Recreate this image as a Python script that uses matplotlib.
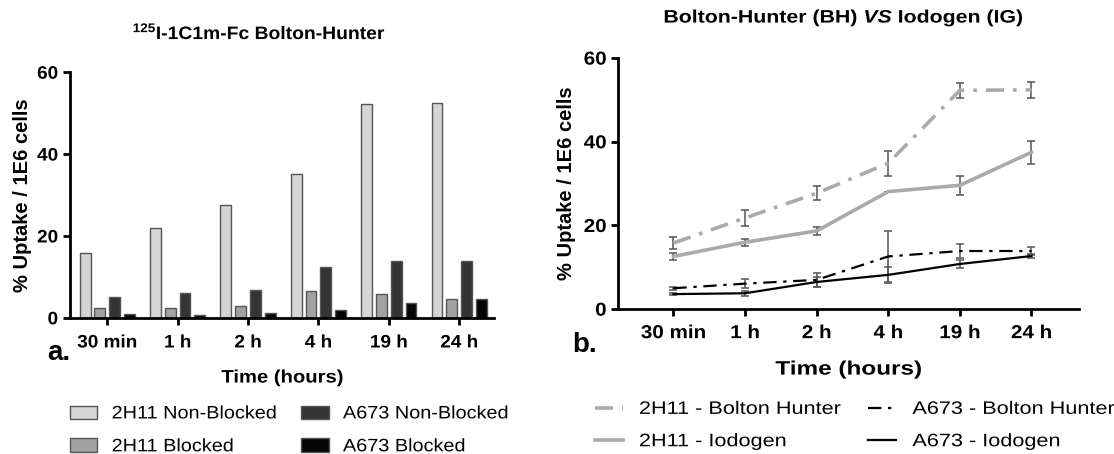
import numpy as np
import matplotlib
matplotlib.use("Agg")
import matplotlib.pyplot as plt
from matplotlib.patches import Patch
from matplotlib.lines import Line2D
from matplotlib.patheffects import AbstractPathEffect
from matplotlib.transforms import Affine2D

plt.rcParams['font.family'] = ['Liberation Sans', 'DejaVu Sans']
plt.rcParams['mathtext.fontset'] = 'custom'
plt.rcParams['mathtext.rm'] = 'Liberation Sans:bold'
plt.rcParams['mathtext.bfit'] = 'Liberation Sans:bold:italic'

times = ["30 min", "1 h", "2 h", "4 h", "19 h", "24 h"]

# panel a: bars
h2_nonblocked = [15.8, 21.9, 27.6, 35.2, 52.2, 52.5]
h2_blocked = [2.3, 2.3, 2.9, 6.5, 5.9, 4.5]
a673_nonblocked = [5.1, 6.0, 6.9, 12.4, 13.8, 13.8]
a673_blocked = [1.05, 0.8, 1.1, 1.9, 3.6, 4.5]

# panel b: lines with errors
h2_bh = [15.8, 21.8, 27.7, 34.9, 52.3, 52.4]
h2_bh_err = [1.4, 2.0, 1.7, 3.0, 1.8, 2.0]
h2_ig = [12.6, 16.0, 18.7, 28.1, 29.6, 37.5]
h2_ig_err = [0.9, 0.8, 0.9, 0.0, 2.3, 2.8]
a673_bh = [5.0, 6.1, 7.0, 12.6, 13.9, 13.9]
a673_bh_err = [0.3, 1.0, 1.7, 6.2, 1.7, 1.0]
a673_ig = [3.6, 3.8, 6.5, 8.2, 10.8, 12.7]
a673_ig_err = [0.3, 0.6, 1.3, 1.9, 0.9, 0.5]


class Stretch(AbstractPathEffect):
    # the source figure is squeezed sideways; widen glyphs to match
    def __init__(self, sx, anchor='center'):
        super().__init__()
        self.sx = sx
        self.anchor = anchor

    def draw_path(self, renderer, gc, tpath, affine, rgbFace=None):
        ext = tpath.get_extents(affine)
        if self.anchor == 'left':
            x0 = ext.x0
        elif self.anchor == 'right':
            x0 = ext.x1
        else:
            x0 = 0.5 * (ext.x0 + ext.x1)
        t = affine + Affine2D().translate(-x0, 0).scale(self.sx, 1).translate(x0, 0)
        renderer.draw_path(gc, tpath, t, rgbFace)


fig = plt.figure(figsize=(11.14, 4.54), dpi=100)

ax1 = fig.add_axes([0.0628, 0.300, 0.381, 0.541])
ax2 = fig.add_axes([0.555, 0.319, 0.414, 0.553])

x = np.arange(len(times))
w = 0.155
step = 0.21
bar_sets = [
    (h2_nonblocked, '#d5d5d5', '2H11 Non-Blocked'),
    (h2_blocked, '#a2a2a2', '2H11 Blocked'),
    (a673_nonblocked, '#343434', 'A673 Non-Blocked'),
    (a673_blocked, '#050505', 'A673 Blocked'),
]
for i, (vals, col, lab) in enumerate(bar_sets):
    ax1.bar(x + (i - 1.5) * step, vals, width=w, color=col,
            edgecolor='#555555', linewidth=1.0)

for ax, tsize, sx, xpad in ((ax1, 13, 1.05, 7), (ax2, 13.5, 1.1, 6.5)):
    ax.set_ylim(0, 60)
    ax.set_yticks([0, 20, 40, 60])
    ax.set_xticks(x)
    ax.set_xticklabels(times)
    ax.spines['top'].set_visible(False)
    ax.spines['right'].set_visible(False)
    for s in ('left', 'bottom'):
        ax.spines[s].set_linewidth(2)
    ax.tick_params(width=2, length=5, labelsize=tsize)
    ax.tick_params(axis='x', pad=xpad)
    for lab in ax.get_xticklabels():
        lab.set_fontweight('bold')
        lab.set_path_effects([Stretch(sx)])
    for lab in ax.get_yticklabels():
        lab.set_fontweight('bold')
        lab.set_path_effects([Stretch(sx, 'right')])
    ax.set_ylabel('% Uptake / 1E6 cells', fontsize=14.5, fontweight='bold')

ax1.set_xlabel('Time (hours)', fontsize=13, fontweight='bold', labelpad=13,
               path_effects=[Stretch(1.12)])
ax2.set_xlabel('Time (hours)', fontsize=14, fontweight='bold', labelpad=14,
               path_effects=[Stretch(1.25)])

ax1.set_xlim(-0.53, 5.5)
ax2.set_xlim(-0.77, 5.67)
ax1.yaxis.set_label_coords(-0.09, 0.5)
ax2.yaxis.set_label_coords(-0.091, 0.5)

dashdot_gray = (0, (5, 2.5, 1, 2.5))
dashdot_black = (0, (6, 3, 1.5, 3))
err_kw = dict(ecolor='#555555', elinewidth=1.1, capsize=3, capthick=1.1)

ax2.errorbar(x, h2_bh, yerr=h2_bh_err, color='#aaaaaa', lw=2.6,
             linestyle=dashdot_gray, **err_kw)
ax2.errorbar(x, h2_ig, yerr=h2_ig_err, color='#aaaaaa', lw=2.6,
             linestyle='-', **err_kw)
ax2.errorbar(x, a673_bh, yerr=a673_bh_err, color='black', lw=1.6,
             linestyle=dashdot_black, **err_kw)
ax2.errorbar(x, a673_ig, yerr=a673_ig_err, color='black', lw=1.6,
             linestyle='-', **err_kw)

fig.text(0.2325, 0.927, r'$^{125}$I-1C1m-Fc Bolton-Hunter', fontsize=13,
         fontweight='bold', ha='center', va='center',
         path_effects=[Stretch(1.07)])
fig.text(0.757, 0.96, r'Bolton-Hunter (BH) $\mathbfit{VS}$ Iodogen (IG)',
         fontsize=13, fontweight='bold', ha='center', va='center',
         path_effects=[Stretch(1.18)])

fig.text(0.042, 0.208, 'a.', fontsize=20, fontweight='bold')
fig.text(0.514, 0.225, 'b.', fontsize=20, fontweight='bold')

h1 = [Patch(facecolor=c, edgecolor='#555555', label=l) for _, c, l in bar_sets]
leg1 = fig.legend(handles=h1, loc='upper left', bbox_to_anchor=(0.063, 0.107),
                  ncol=2, frameon=False, fontsize=13, handlelength=1.5,
                  handleheight=0.75, columnspacing=2.2, labelspacing=0.88,
                  borderaxespad=0, borderpad=0)
for t in leg1.get_texts():
    t.set_path_effects([Stretch(1.1, 'left')])

h2 = [
    Line2D([], [], color='#aaaaaa', lw=2.6, linestyle=dashdot_gray,
           label='2H11 - Bolton Hunter'),
    Line2D([], [], color='#aaaaaa', lw=2.6, label='2H11 - Iodogen'),
    Line2D([], [], color='black', lw=1.6, linestyle=dashdot_black,
           label='A673 - Bolton Hunter'),
    Line2D([], [], color='black', lw=1.6, label='A673 - Iodogen'),
]
leg2 = fig.legend(handles=h2, loc='upper left', bbox_to_anchor=(0.534, 0.117),
                  ncol=2, frameon=False, fontsize=13, handlelength=1.55,
                  handletextpad=0.9, columnspacing=3.4, labelspacing=0.85,
                  borderaxespad=0, borderpad=0)
for t in leg2.get_texts():
    t.set_path_effects([Stretch(1.2, 'left')])

fig.savefig('out.png', dpi=100)
